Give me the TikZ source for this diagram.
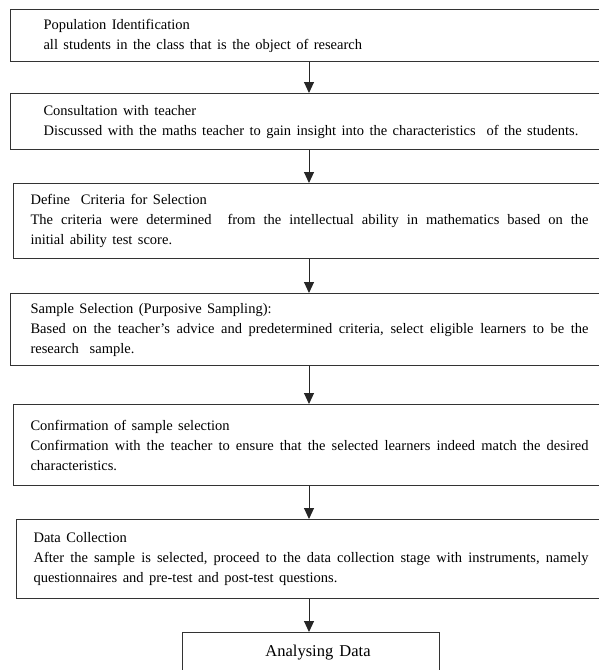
\documentclass[tikz,border=0pt]{standalone}
\usepackage{fontspec}
\setmainfont{Liberation Serif}[WordSpace=1.5]
\usetikzlibrary{calc}
\usetikzlibrary{arrows.meta}

\begin{document}
\begin{tikzpicture}[%
  >={Triangle[width=10pt,length=11pt]},
  x=1pt, y=-1pt,
  stagebox/.style={draw=black!80, line width=1.1pt, rectangle, anchor=north west,
    align=justify, inner ysep=4pt, font=\fontsize{14.5}{20}\selectfont},
  flow/.style={->, line width=1pt, black!85},
]

  \useasboundingbox (0,0) rectangle (599,670);
  \clip (0,0) rectangle (599,670);

  \node[stagebox, text width=545pt, inner xsep=33pt, minimum height=52pt]
    (popid) at (10,9)
    {Population Identification\\
     all students in the class that is the object of research};

  \node[stagebox, text width=545pt, inner xsep=33pt, minimum height=56pt]
    (consult) at (10,93)
    {Consultation with teacher\\
     Discussed with the maths teacher to gain insight into the characteristics\ \ of the students.};

  \node[stagebox, text width=558pt, inner xsep=17pt, minimum height=75pt]
    (criteria) at (13,183)
    {Define\ \ Criteria for Selection\\
     The criteria were determined\ \ from the intellectual ability in mathematics based on the\linebreak
     initial ability test score.};

  \node[stagebox, text width=558pt, inner xsep=20pt, minimum height=72pt]
    (sample) at (10,293)
    {Sample Selection (Purposive Sampling):\\
     Based on the teacher's advice and predetermined criteria, select eligible learners to be the\linebreak
     research\ \ sample.};

  \node[stagebox, text width=558pt, inner xsep=17pt, minimum height=81pt]
    (confirm) at (13,404)
    {Confirmation of sample selection\\
     Confirmation with the teacher to ensure that the selected learners indeed match the desired\linebreak
     characteristics.};

  \node[stagebox, text width=555pt, inner xsep=17pt, minimum height=79pt]
    (collect) at (16,519)
    {Data Collection\\
     After the sample is selected, proceed to the data collection stage with instruments, namely\linebreak
     questionnaires and pre-test and post-test questions.};

  \node[stagebox, align=center, minimum width=257pt, minimum height=40pt, inner xsep=0pt,
    font=\fontsize{16.5}{20}\selectfont]
    (analyse) at (182,632) {\hspace*{14pt}Analysing Data};

  % arrow column
  \coordinate (ax) at (309,0);

  \draw[flow] (popid.south -| ax) -- (consult.north -| ax);
  \draw[flow] (consult.south -| ax) -- (criteria.north -| ax);
  \draw[flow] (criteria.south -| ax) -- (sample.north -| ax);
  \draw[flow] (sample.south -| ax) -- (confirm.north -| ax);
  \draw[flow] (confirm.south -| ax) -- (collect.north -| ax);
  \draw[flow] (collect.south -| ax) -- (analyse.north -| ax);

\end{tikzpicture}
\end{document}
